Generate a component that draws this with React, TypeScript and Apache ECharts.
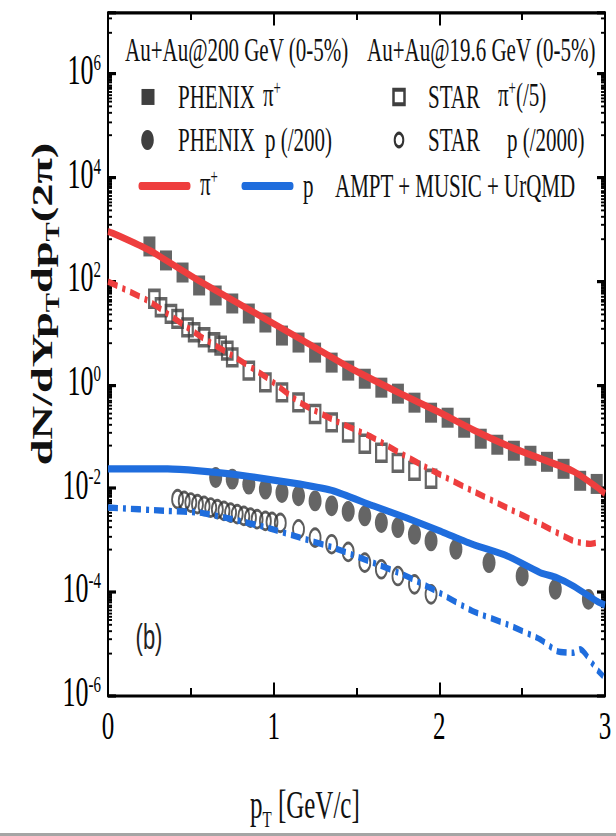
import React, { useEffect, useRef } from "react";
import * as echarts from "echarts";

// The reference picture is stretched vertically; the chart is drawn in an
// unstretched frame and scaled with CSS.
const STRETCH = 1.6;
const WIDTH = 616;
const HEIGHT = 836 / STRETCH;

// ---------- data (pT in GeV/c, yield) ----------
// PHENIX pi+ , Au+Au 200 GeV (0-5%)
const phenixPiPt = [0.25, 0.35, 0.45, 0.55, 0.65, 0.75, 0.85, 0.95, 1.05, 1.15, 1.25, 1.35, 1.45, 1.55, 1.65, 1.75, 1.85, 1.95, 2.05, 2.15, 2.25, 2.35, 2.45, 2.55, 2.65, 2.75, 2.85, 2.95];
const phenixPiY = [462, 248, 145, 81.5, 52.2, 36.6, 23.4, 15.7, 8.79, 6.44, 4.12, 2.64, 1.85, 1.29, 0.867, 0.664, 0.445, 0.285, 0.228, 0.146, 0.0896, 0.0686, 0.0525, 0.042, 0.0321, 0.0235, 0.0138, 0.012];

// STAR pi+ (/5), Au+Au 19.6 GeV (0-5%)
const starPiPt = [0.28, 0.32, 0.38, 0.42, 0.48, 0.52, 0.58, 0.64, 0.68, 0.72, 0.75, 0.85, 0.95, 1.05, 1.15, 1.25, 1.35, 1.45, 1.55, 1.65, 1.75, 1.85, 1.95];
const starPiY = [45.1, 31.0, 23.1, 18.5, 12.7, 10.2, 8.15, 6.52, 5.62, 4.51, 3.34, 1.85, 1.10, 0.703, 0.451, 0.269, 0.185, 0.118, 0.0716, 0.048, 0.0307, 0.0215, 0.0151];

// PHENIX p (/200)
const phenixPPt = [0.65, 0.75, 0.85, 0.95, 1.05, 1.15, 1.25, 1.35, 1.45, 1.55, 1.65, 1.75, 1.85, 1.95, 2.1, 2.3, 2.5, 2.7, 2.9];
const phenixPY = [0.01596, 0.01486, 0.01188, 0.00953, 0.00819, 0.00706, 0.00565, 0.00453, 0.00354, 0.0029, 0.00215, 0.00172, 0.00128, 0.000953, 0.000658, 0.000362, 0.0002, 0.000111, 0.000071];

// STAR p (/2000)
const starPPt = [0.42, 0.46, 0.5, 0.54, 0.58, 0.62, 0.66, 0.7, 0.74, 0.78, 0.82, 0.86, 0.9, 0.95, 0.99, 1.04, 1.15, 1.25, 1.35, 1.45, 1.55, 1.65, 1.75, 1.85, 1.95];
const starPY = [0.0061, 0.00565, 0.00525, 0.00489, 0.00453, 0.0042, 0.00391, 0.00362, 0.00336, 0.00313, 0.0029, 0.00268, 0.0025, 0.00232, 0.00222, 0.00212, 0.0016, 0.0011, 0.000822, 0.000583, 0.000362, 0.00027, 0.0002, 0.000138, 0.0000887];

// AMPT + MUSIC + UrQMD, pi+ 200 GeV
const modelPi200Pt = [0, 0.05, 0.25, 0.55, 0.86, 1.16, 1.46, 1.76, 2.0, 2.2, 2.41, 2.61, 2.81, 2.95, 3.0];
const modelPi200Y = [900, 780, 390, 100, 27, 7.6, 2.1, 0.68, 0.29, 0.135, 0.066, 0.037, 0.021, 0.0105, 0.0078];

// AMPT + MUSIC + UrQMD, pi+ 19.6 GeV (/5)
const modelPi19Pt = [0, 0.25, 0.55, 0.75, 0.96, 1.16, 1.36, 1.6, 1.76, 1.96, 2.2, 2.41, 2.61, 2.81, 2.91, 2.97];
const modelPi19Y = [97, 39.9, 8.79, 3.61, 1.35, 0.445, 0.208, 0.0935, 0.048, 0.0215, 0.00883, 0.00414, 0.00203, 0.000953, 0.000834, 0.00091];

// AMPT + MUSIC + UrQMD, p 200 GeV (/200)
const modelP200Pt = [0, 0.36, 0.55, 0.75, 0.96, 1.16, 1.36, 1.6, 1.8, 2.0, 2.2, 2.41, 2.61, 2.71, 2.81, 2.95, 3.0];
const modelP200Y = [0.0235, 0.0234, 0.0215, 0.0186, 0.01486, 0.01188, 0.00883, 0.00453, 0.00268, 0.00149, 0.000822, 0.000489, 0.000232, 0.000186, 0.000128, 0.0000658, 0.0000551];

// AMPT + MUSIC + UrQMD, p 19.6 GeV (/2000)
const modelP19Pt = [0, 0.36, 0.55, 0.75, 0.96, 1.16, 1.36, 1.6, 1.8, 2.0, 2.2, 2.41, 2.61, 2.71, 2.81, 2.85, 2.95, 2.99];
const modelP19Y = [0.0042, 0.00362, 0.00336, 0.0025, 0.00172, 0.0011, 0.000706, 0.000362, 0.0002, 0.0000953, 0.0000422, 0.0000233, 0.0000119, 0.0000071, 0.0000066, 0.0000077, 0.00000314, 0.00000233];

const xMin = 0;
const xMax = 3;
const yMin = 1e-6;
const yMax = 1.5e7;

// ---------- styles ----------
const SERIF = "'Liberation Serif', 'Times New Roman', serif";
const SANS = "'Liberation Sans', Arial, sans-serif";
const RED = "#ee3e3e";
const BLUE = "#1f6ddd";
const MARK = "#3f3f3f";
const DASHDOT = [10, 5, 3, 5];

const pairs = (xs: number[], ys: number[]) => xs.map((x, i) => [x, ys[i]]);

function yLabel(v: number) {
  const l = Math.log10(v);
  const e = Math.round(l);
  if (Math.abs(l - e) > 0.01 || e % 2 !== 0) return "";
  return `{b|10}{s|${e}}`;
}

const tickLine = { color: "#000", width: 2 };

function xAxisDef(position: "bottom" | "top") {
  return {
    type: "value",
    min: xMin,
    max: xMax,
    interval: 1,
    position,
    axisLine: { show: true, onZero: false, lineStyle: { color: "#000", width: 2 } },
    axisTick: { show: true, inside: true, length: 8, lineStyle: tickLine },
    minorTick: { show: true, splitNumber: 2, length: 4.5, lineStyle: { color: "#000", width: 2 } },
    splitLine: { show: false },
    minorSplitLine: { show: false },
    axisLabel:
      position === "bottom"
        ? { show: true, fontFamily: SERIF, fontSize: 25, color: "#000", margin: 6 }
        : { show: false },
  };
}

function yAxisDef(position: "left" | "right") {
  return {
    type: "log",
    logBase: 100,
    min: yMin,
    max: yMax,
    position,
    axisLine: { show: true, onZero: false, lineStyle: { color: "#000", width: 2 } },
    axisTick: { show: true, inside: true, length: 8, lineStyle: tickLine },
    minorTick: { show: true, splitNumber: 18, length: 4, lineStyle: { color: "#000", width: 1.2 } },
    splitLine: { show: false },
    minorSplitLine: { show: false },
    axisLabel:
      position === "left"
        ? {
            show: true,
            margin: 7,
            showMaxLabel: false,
            formatter: yLabel,
            rich: {
              b: { fontFamily: SERIF, fontSize: 26, lineHeight: 30, color: "#000", verticalAlign: "top" },
              s: { fontFamily: SERIF, fontSize: 15, lineHeight: 15, color: "#000", verticalAlign: "top" },
            },
          }
        : { show: false },
  };
}

const legRich = {
  m: { fontFamily: SERIF, fontSize: 21, lineHeight: 24, fill: "#111", verticalAlign: "top" },
  s: { fontFamily: SERIF, fontSize: 13, lineHeight: 13, fill: "#111", verticalAlign: "top" },
};

function legText(x: number, y: number, text: string) {
  return {
    type: "text",
    x,
    y,
    style: {
      text,
      rich: legRich,
      fontFamily: SERIF,
      fontSize: 21,
      fill: "#111",
      align: "left",
      verticalAlign: "middle",
    },
  };
}

const ROW1 = 31.3;
const ROW2 = 60.6;
const ROW3 = 87.5;
const ROW4 = 116.3;

function buildOption() {
  return {
    animation: false,
    backgroundColor: "#fff",
    grid: { left: 108, right: 11, top: 8, bottom: HEIGHT - 434, containLabel: false, outerBoundsMode: "none" },
    xAxis: [xAxisDef("bottom"), xAxisDef("top")],
    yAxis: [yAxisDef("left"), yAxisDef("right")],
    series: [
      {
        name: "PHENIX π+",
        type: "scatter",
        symbol: "rect",
        symbolSize: [12, 12.5],
        itemStyle: { color: MARK },
        data: pairs(phenixPiPt, phenixPiY),
        z: 2,
      },
      {
        name: "STAR π+(/5)",
        type: "scatter",
        symbol: "rect",
        symbolSize: 10.5,
        itemStyle: { color: "rgba(255,255,255,0)", borderColor: MARK, borderWidth: 2.2 },
        data: pairs(starPiPt, starPiY),
        z: 2,
      },
      {
        name: "PHENIX p (/200)",
        type: "scatter",
        symbol: "circle",
        symbolSize: 13,
        itemStyle: { color: MARK },
        data: pairs(phenixPPt, phenixPY),
        z: 2,
      },
      {
        name: "STAR p (/2000)",
        type: "scatter",
        symbol: "circle",
        symbolSize: 11,
        itemStyle: { color: "rgba(255,255,255,0)", borderColor: "#333", borderWidth: 1.8 },
        data: pairs(starPPt, starPY),
        z: 2,
      },
      {
        name: "π+ 200 GeV model",
        type: "line",
        smooth: 0.2,
        symbol: "none",
        lineStyle: { color: RED, width: 4.5 },
        data: pairs(modelPi200Pt, modelPi200Y),
        z: 3,
      },
      {
        name: "π+ 19.6 GeV model",
        type: "line",
        smooth: 0.2,
        symbol: "none",
        lineStyle: { color: RED, width: 4, type: DASHDOT },
        data: pairs(modelPi19Pt, modelPi19Y),
        z: 3,
      },
      {
        name: "p 200 GeV model",
        type: "line",
        smooth: 0.2,
        symbol: "none",
        lineStyle: { color: BLUE, width: 4.5 },
        data: pairs(modelP200Pt, modelP200Y),
        z: 3,
      },
      {
        name: "p 19.6 GeV model",
        type: "line",
        smooth: 0.2,
        symbol: "none",
        lineStyle: { color: BLUE, width: 4, type: DASHDOT },
        data: pairs(modelP19Pt, modelP19Y),
        z: 3,
      },
    ],
    graphic: [
      // legend header row
      legText(125, ROW1, "Au+Au@200 GeV (0-5%)"),
      legText(367, ROW1, "Au+Au@19.6 GeV (0-5%)"),
      // row 2
      { type: "rect", shape: { x: 141.5, y: ROW2 - 5, width: 13, height: 10 }, style: { fill: MARK } },
      legText(178, ROW2, "PHENIX"),
      legText(263, ROW2, "{m|π}{s|+}"),
      { type: "rect", shape: { x: 393.5, y: ROW2 - 4.5, width: 11, height: 9 }, style: { fill: "none", stroke: MARK, lineWidth: 2.5 } },
      legText(428, ROW2, "STAR"),
      legText(498, ROW2, "{m|π}{s|+}{m|(/5)}"),
      // row 3
      { type: "circle", shape: { cx: 147.5, cy: ROW3, r: 6.3 }, style: { fill: MARK } },
      legText(178, ROW3, "PHENIX"),
      legText(265, ROW3, "p (/200)"),
      { type: "circle", shape: { cx: 399, cy: ROW3, r: 4.3 }, style: { fill: "none", stroke: "#333", lineWidth: 2 } },
      legText(428, ROW3, "STAR"),
      legText(507, ROW3, "p (/2000)"),
      // row 4
      { type: "line", shape: { x1: 141, y1: ROW4, x2: 188, y2: ROW4 }, style: { stroke: RED, lineWidth: 5, lineCap: "round" } },
      legText(200, ROW4, "{m|π}{s|+}"),
      { type: "line", shape: { x1: 244, y1: ROW4, x2: 291, y2: ROW4 }, style: { stroke: BLUE, lineWidth: 5, lineCap: "round" } },
      legText(303, ROW4, "p"),
      legText(335, ROW4, "AMPT + MUSIC + UrQMD"),
      // panel tag
      {
        type: "text",
        x: 149,
        y: 398,
        style: { text: "(b)", fontFamily: SANS, fontSize: 22, fill: "#222", align: "center", verticalAlign: "middle" },
      },
      // y axis title
      {
        type: "text",
        x: 45,
        y: 190,
        rotation: Math.PI / 2,
        style: {
          text: "{m|dN/dYp}{s|T}{m|dp}{s|T}{m|(2π)}",
          rich: {
            m: { fontFamily: SERIF, fontSize: 29, fontWeight: "bold", lineHeight: 34, fill: "#111", verticalAlign: "top" },
            s: { fontFamily: SERIF, fontSize: 18, fontWeight: "bold", lineHeight: 18, padding: [16, 0, 0, 0], fill: "#111", verticalAlign: "top" },
          },
          align: "center",
          verticalAlign: "middle",
        },
      },
      // x axis title
      {
        type: "text",
        x: 250,
        y: 505,
        style: {
          text: "{m|p}{s|T}{m| [GeV/c]}",
          rich: {
            m: { fontFamily: SERIF, fontSize: 25, lineHeight: 30, fill: "#111", verticalAlign: "top" },
            s: { fontFamily: SERIF, fontSize: 15, lineHeight: 15, padding: [14, 0, 0, 0], fill: "#111", verticalAlign: "top" },
          },
          align: "left",
          verticalAlign: "middle",
        },
      },
      // grey strip at the bottom edge of the picture
      { type: "rect", shape: { x: 0, y: 520.6, width: WIDTH, height: 2 }, style: { fill: "#a5a5a5" }, z: 10 },
    ],
  };
}

export default function App() {
  const ref = useRef<HTMLDivElement>(null);
  useEffect(() => {
    if (!ref.current) return;
    const chart = echarts.init(ref.current, undefined, { renderer: "svg" });
    chart.setOption(buildOption() as any);
    return () => chart.dispose();
  }, []);
  return (
    <div style={{ position: "absolute", left: 0, top: 0, width: WIDTH, height: 836, overflow: "hidden", background: "#fff" }}>
      <div
        ref={ref}
        style={{ width: WIDTH, height: HEIGHT, transform: `scaleY(${STRETCH})`, transformOrigin: "0 0" }}
      />
    </div>
  );
}
